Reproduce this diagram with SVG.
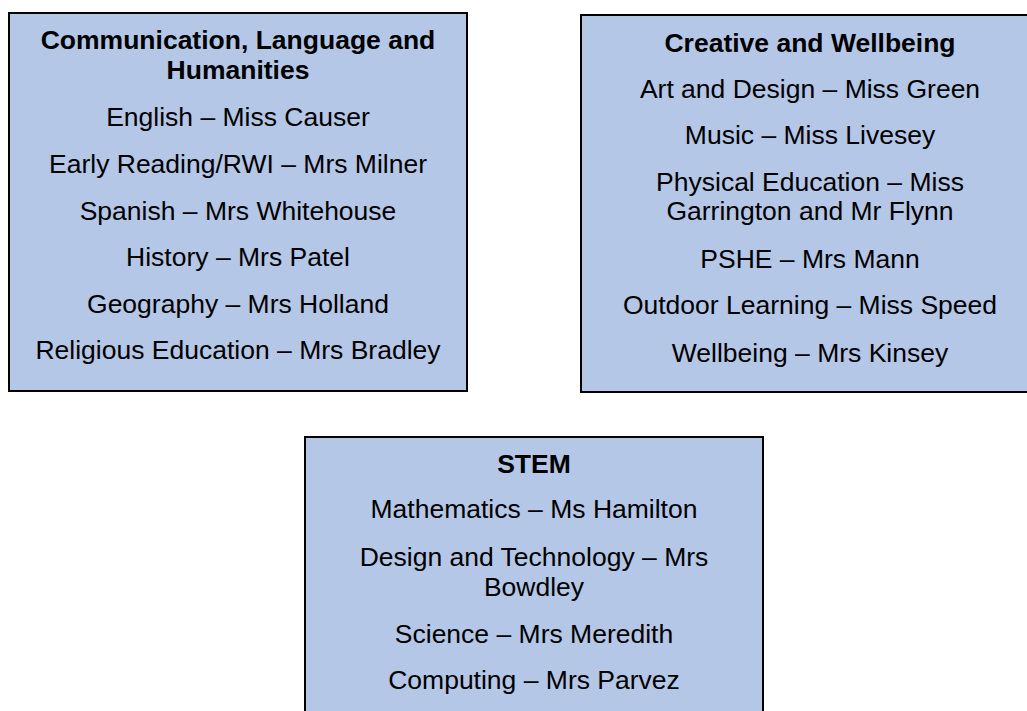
<svg xmlns="http://www.w3.org/2000/svg" width="1027" height="711" viewBox="0 0 1027 711">
<style>
.box{fill:#B4C7E7;stroke:#000;stroke-width:2}
text{font-family:"Liberation Sans",Arial,sans-serif;font-size:26.5px;fill:#000;text-anchor:middle}
.h{font-weight:bold}
</style>
<rect x="0" y="0" width="1027" height="711" fill="#fff"/>
<g id="node-communication">
<rect class="box" x="9" y="13" width="458" height="378"/>
<text class="h" x="238" y="49">Communication, Language and</text>
<text class="h" x="238" y="79">Humanities</text>
<text x="238" y="126">English – Miss Causer</text>
<text x="238" y="173">Early Reading/RWI – Mrs Milner</text>
<text x="238" y="220">Spanish – Mrs Whitehouse</text>
<text x="238" y="266">History – Mrs Patel</text>
<text x="238" y="313">Geography – Mrs Holland</text>
<text x="238" y="359">Religious Education – Mrs Bradley</text>
</g>
<g id="node-creative">
<rect class="box" x="581" y="15" width="458" height="377"/>
<text class="h" x="810" y="52">Creative and Wellbeing</text>
<text x="810" y="98">Art and Design – Miss Green</text>
<text x="810" y="144">Music – Miss Livesey</text>
<text x="810" y="191">Physical Education – Miss</text>
<text x="810" y="220">Garrington and Mr Flynn</text>
<text x="810" y="268">PSHE – Mrs Mann</text>
<text x="810" y="314">Outdoor Learning – Miss Speed</text>
<text x="810" y="362">Wellbeing – Mrs Kinsey</text>
</g>
<g id="node-stem">
<rect class="box" x="305" y="437" width="458" height="290"/>
<text class="h" x="534" y="473">STEM</text>
<text x="534" y="518">Mathematics – Ms Hamilton</text>
<text x="534" y="566">Design and Technology – Mrs</text>
<text x="534" y="596">Bowdley</text>
<text x="534" y="643">Science – Mrs Meredith</text>
<text x="534" y="689">Computing – Mrs Parvez</text>
</g>
<g id="connectors"/>
</svg>
